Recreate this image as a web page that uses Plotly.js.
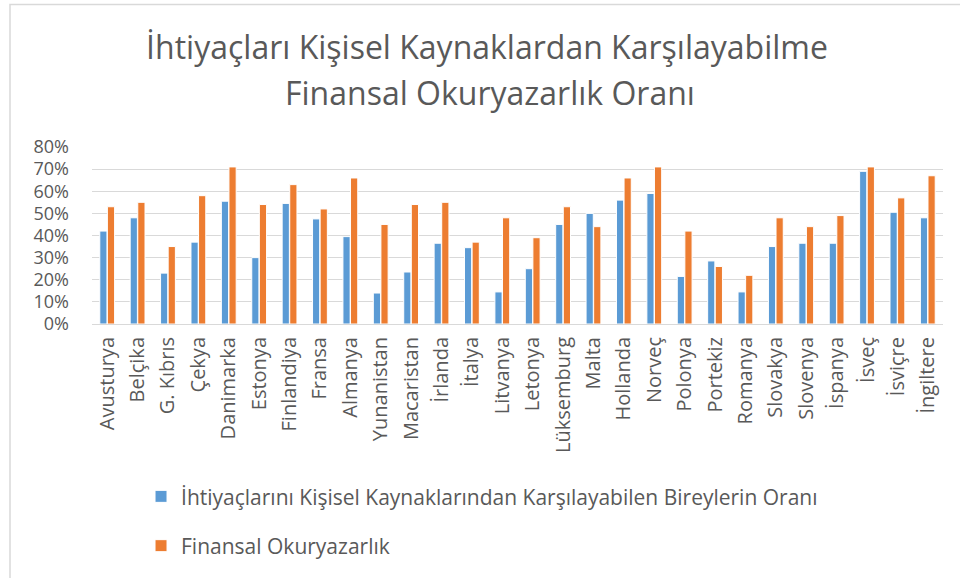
<!DOCTYPE html>
<html>
<head>
<meta charset="utf-8">
<script src="https://cdn.plot.ly/plotly-3.0.1.min.js"></script>
<style>html,body{margin:0;padding:0;background:#fff;}#chart{width:960px;height:578px;}</style>
</head>
<body>
<div id="chart"></div>
<script>
const countries = ["Avusturya","Belçika","G. Kıbrıs","Çekya","Danimarka","Estonya","Finlandiya","Fransa","Almanya","Yunanistan","Macaristan","İrlanda","İtalya","Litvanya","Letonya","Lüksemburg","Malta","Hollanda","Norveç","Polonya","Portekiz","Romanya","Slovakya","Slovenya","İspanya","İsveç","İsviçre","İngiltere"];
const personalResources = [42,48,23,37,55.5,30,54.5,47.5,39.5,14,23.5,36.5,34.5,14.5,25,45,50,56,59,21.5,28.5,14.5,35,36.5,36.5,69,50.5,48];
const financialLiteracy = [53,55,35,58,71,54,63,52,66,45,54,55,37,48,39,53,44,66,71,42,26,22,48,44,49,71,57,67];
const seriesNames = ["İhtiyaçlarını Kişisel Kaynaklarından Karşılayabilen Bireylerin Oranı","Finansal Okuryazarlık"];
const titleLines = ["İhtiyaçları Kişisel Kaynaklardan Karşılayabilme","Finansal Okuryazarlık Oranı"];

const font = "'Open Sans', 'Noto Sans', sans-serif";
const grey = '#595959';
const traces = [
  {type:'bar', x:countries, y:personalResources, name:seriesNames[0], legendgroup:'a',
   marker:{color:'#5B9BD5', line:{color:'#ffffff', width:1}}},
  {type:'bar', x:countries, y:financialLiteracy, name:seriesNames[1], legendgroup:'b',
   marker:{color:'#ED7D31', line:{color:'#ffffff', width:1}}}
];
const layout = {
  width:960, height:578,
  margin:{l:92, r:17, t:147, b:252},
  paper_bgcolor:'#ffffff', plot_bgcolor:'#ffffff',
  font:{family:font, color:grey},
  title:{text:titleLines[0], x:487/960, xref:'container', xanchor:'center', yref:'container', y:1-48/578, yanchor:'middle',
         font:{size:32, color:grey, family:font}},
  annotations:[{text:titleLines[1], xref:'paper', yref:'paper', x:(490-92)/851, xanchor:'center', y:(326-92)/179, yanchor:'middle',
         showarrow:false, font:{size:32, color:grey, family:font}}],
  barmode:'group', bargap:0.5, bargroupgap:0.05,
  xaxis:{tickangle:-90, tickfont:{size:20, color:grey}, showline:true, linecolor:'#D9D9D9', linewidth:1,
         ticks:'', automargin:false, ticklabelstandoff:4},
  yaxis:{range:[0,80], dtick:10, ticksuffix:'%', tickfont:{size:18, color:grey}, gridcolor:'#D9D9D9', gridwidth:1,
         zeroline:false, showline:false, ticks:'', automargin:false, ticklabelstandoff:22},
  showlegend:true,
  legend:{orientation:'v', x:0.0576, xanchor:'left', y:-0.86, yanchor:'top', traceorder:'grouped', tracegroupgap:19,
          bgcolor:'rgba(0,0,0,0)', font:{size:21, color:grey, family:font}, itemwidth:30},
  shapes:[{type:'rect', xref:'paper', yref:'paper', x0:(10-92)/851, x1:(975-92)/851, y0:(326-590)/179, y1:(326-3)/179,
           line:{color:'#D9D9D9', width:1.5}}]
};
Plotly.newPlot('chart', traces, layout, {displayModeBar:false, staticPlot:true});
</script>
</body>
</html>
